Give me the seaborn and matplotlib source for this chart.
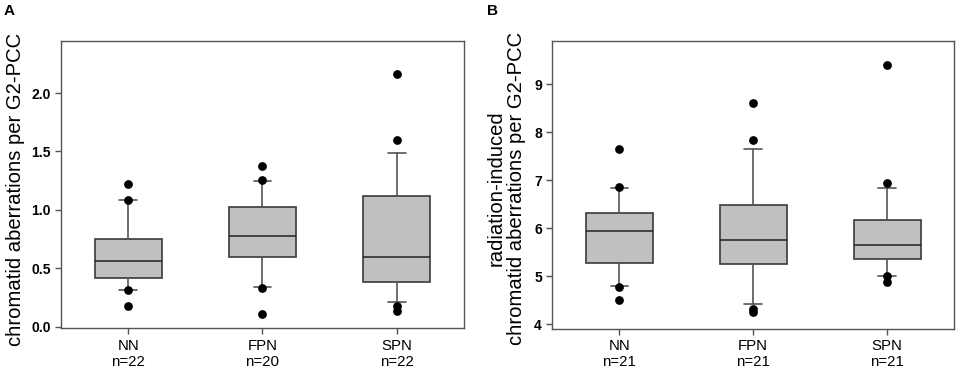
import numpy as np
import pandas as pd
import matplotlib
matplotlib.use("Agg")
import matplotlib.pyplot as plt
import seaborn as sns

sns.set_style("ticks")
plt.rcParams['font.family'] = ['Liberation Sans', 'DejaVu Sans']
plt.rcParams['text.color'] = 'black'
plt.rcParams['xtick.color'] = 'black'
plt.rcParams['ytick.color'] = 'black'

# groups and sample sizes
groups = ["NN", "FPN", "SPN"]
n_a = [22, 20, 22]
n_b = [21, 21, 21]

# panel A: spontaneous chromatid aberrations per G2-PCC
a_q1 = [0.42, 0.597, 0.385]
a_med = [0.56, 0.777, 0.594]
a_q3 = [0.748, 1.022, 1.116]
a_wlo = [0.317, 0.337, 0.211]
a_whi = [1.085, 1.248, 1.487]
a_out = [[1.222, 1.088, 0.315, 0.175],
         [1.373, 1.259, 0.331, 0.111],
         [2.161, 1.601, 0.172, 0.132]]

# panel B: radiation-induced chromatid aberrations per G2-PCC
b_q1 = [5.28, 5.26, 5.35]
b_med = [5.93, 5.74, 5.64]
b_q3 = [6.31, 6.49, 6.16]
b_wlo = [4.79, 4.42, 4.99]
b_whi = [6.83, 7.65, 6.84]
b_out = [[7.65, 6.85, 4.78, 4.51],
         [8.60, 7.84, 4.31, 4.24],
         [9.40, 6.94, 5.01, 4.88]]

box_fill = "#c0c0c0"
edge = "#3a3a3a"


def draw_panel(ax, q1, med, q3, wlo, whi, outs, ns, ylim, yticks, ticklabels):
    stats = []
    for i, g in enumerate(groups):
        stats.append(dict(label=g, q1=q1[i], med=med[i], q3=q3[i],
                          whislo=wlo[i], whishi=whi[i], fliers=[]))
    ax.bxp(stats, positions=range(len(groups)), widths=0.5, capwidths=0.13,
           showfliers=False, patch_artist=True,
           boxprops=dict(facecolor=box_fill, edgecolor=edge, linewidth=1.2),
           medianprops=dict(color="#222222", linewidth=1.1),
           whiskerprops=dict(color="#555555", linewidth=1.2),
           capprops=dict(color="#555555", linewidth=1.2))
    # outliers as black dots
    rows = [(g, v) for g, vals in zip(groups, outs) for v in vals]
    df = pd.DataFrame(rows, columns=["group", "value"])
    sns.stripplot(data=df, x="group", y="value", order=groups, jitter=False,
                  color="black", size=6.3, linewidth=0, ax=ax, zorder=5)
    ax.set_xlim(-0.5, 2.5)
    ax.set_ylim(*ylim)
    ax.set_yticks(yticks)
    ax.set_yticklabels(ticklabels, fontsize=10, fontweight="bold")
    ax.set_xticks(range(len(groups)))
    ax.set_xticklabels([f"{g}\nn={n}" for g, n in zip(groups, ns)], fontsize=10.8)
    ax.set_xlabel("")
    ax.set_ylabel("")
    for s in ax.spines.values():
        s.set_visible(True)
        s.set_color("#555555")
        s.set_linewidth(1.0)
    ax.tick_params(axis="both", direction="out", length=4.5, width=1.0,
                   color="#555555", labelcolor="black", pad=3)


fig = plt.figure(figsize=(9.57, 3.69), dpi=100)
axA = fig.add_axes([0.0637, 0.1103, 0.4211, 0.7786])
axB = fig.add_axes([0.5771, 0.1092, 0.4198, 0.7788])

draw_panel(axA, a_q1, a_med, a_q3, a_wlo, a_whi, a_out, n_a,
           (-0.015, 2.446), [0, 0.5, 1.0, 1.5, 2.0],
           ["0.0", "0.5", "1.0", "1.5", "2.0"])
draw_panel(axB, b_q1, b_med, b_q3, b_wlo, b_whi, b_out, n_b,
           (3.902, 9.89), [4, 5, 6, 7, 8, 9],
           ["4", "5", "6", "7", "8", "9"])

fig.text(16 / 957, 1 - 189 / 369, "chromatid aberrations per G2-PCC",
         rotation=90, ha="center", va="center", fontsize=14.6)
fig.text(506 / 957, 1 - 188 / 369,
         "radiation-induced\nchromatid aberrations per G2-PCC",
         rotation=90, ha="center", va="center", fontsize=14.6,
         multialignment="center", linespacing=1.1)
fig.text(9 / 957, 1 - 11 / 369, "A", ha="center", va="center",
         fontsize=11, fontweight="bold")
fig.text(492 / 957, 1 - 11 / 369, "B", ha="center", va="center",
         fontsize=11, fontweight="bold")

fig.savefig("out.png", dpi=100)
